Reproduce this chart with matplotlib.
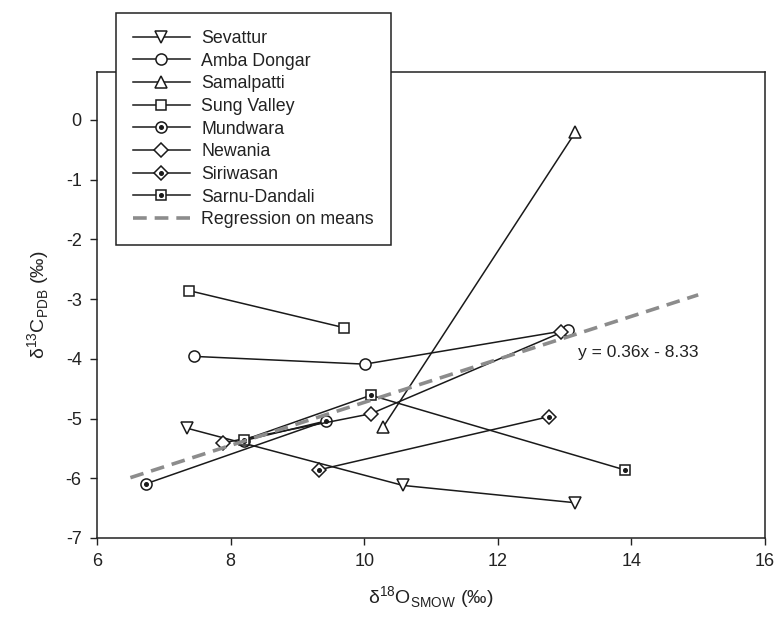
import matplotlib
matplotlib.use('Agg')
import matplotlib.pyplot as plt

plt.rcParams['font.family'] = ['Liberation Sans', 'DejaVu Sans']
plt.rcParams['mathtext.fontset'] = 'custom'
plt.rcParams['mathtext.rm'] = 'Liberation Sans'
plt.rcParams['axes.unicode_minus'] = False

# d18O (SMOW) and d13C (PDB) per locality
sevattur_x = [7.34, 10.58, 13.16]
sevattur_y = [-5.16, -6.12, -6.41]
amba_x = [7.45, 10.01, 13.05]
amba_y = [-3.96, -4.09, -3.52]
samalpatti_x = [10.28, 13.16]
samalpatti_y = [-5.15, -0.21]
sung_x = [7.38, 9.70]
sung_y = [-2.86, -3.48]
mundwara_x = [6.74, 9.43, 8.20]
mundwara_y = [-6.09, -5.04, -5.37]
newania_x = [7.88, 10.10, 12.95]
newania_y = [-5.41, -4.92, -3.56]
siriwasan_x = [9.32, 12.76]
siriwasan_y = [-5.86, -4.97]
sarnu_x = [8.20, 10.10, 13.90]
sarnu_y = [-5.36, -4.61, -5.86]

# regression on locality means
reg_slope = 0.36
reg_intercept = -8.33
reg_x = [6.5, 15.0]

W, H = 774, 618
fig = plt.figure(figsize=(W / 100, H / 100), dpi=100)
ax = fig.add_axes([97 / W, 1 - 538 / H, (765 - 97) / W, (538 - 72) / H])

lc = '#1a1a1a'
common = dict(color=lc, lw=1.1, mec=lc, mew=1.1, mfc='white')


def series(x, y, marker, ms, label, dot=False):
    ln, = ax.plot(x, y, marker=marker, ms=ms, **common, zorder=3)
    if dot:
        d, = ax.plot(x, y, ls='none', marker='o', ms=2.6, color=lc, zorder=4)
        return (ln, d), label
    return ln, label


handles = []
handles.append(series(sevattur_x, sevattur_y, 'v', 8, 'Sevattur'))
handles.append(series(amba_x, amba_y, 'o', 8, 'Amba Dongar'))
handles.append(series(samalpatti_x, samalpatti_y, '^', 8, 'Samalpatti'))
handles.append(series(sung_x, sung_y, 's', 7.5, 'Sung Valley'))
handles.append(series(mundwara_x, mundwara_y, 'o', 8, 'Mundwara', dot=True))
handles.append(series(newania_x, newania_y, 'D', 7, 'Newania'))
handles.append(series(siriwasan_x, siriwasan_y, 'D', 7, 'Siriwasan', dot=True))
handles.append(series(sarnu_x, sarnu_y, 's', 7.5, 'Sarnu-Dandali', dot=True))

reg_y = [reg_slope * v + reg_intercept for v in reg_x]
reg, = ax.plot(reg_x, reg_y, color='#8c8c8c', lw=2.6, dashes=(3.8, 2.2), zorder=5)
handles.append((reg, 'Regression on means'))

ax.text(13.2, -3.89, f'y = {reg_slope:.2f}x - {abs(reg_intercept):.2f}',
        fontsize=12.5, color='#222222', va='center', ha='left')

ax.set_xlim(6, 16)
ax.set_ylim(-7, 0.8)
ax.set_xticks(range(6, 17, 2))
ax.set_yticks(range(-7, 1))
ax.tick_params(direction='out', length=5, width=1, labelsize=13,
               colors='#222222', pad=6)
for s in ax.spines.values():
    s.set_linewidth(1.1)
    s.set_color('#222222')

ax.set_xlabel('δ$^{\\mathregular{18}}$O$_{\\mathregular{SMOW}}$ (‰)', fontsize=14,
              color='#222222', labelpad=10)
ax.set_ylabel('δ$^{\\mathregular{13}}$C$_{\\mathregular{PDB}}$ (‰)', fontsize=14,
              color='#222222', labelpad=10)

leg = ax.legend([h for h, _ in handles], [l for _, l in handles],
                loc='upper left', bbox_to_anchor=(116 / W, 1 - 13 / H),
                bbox_transform=fig.transFigure, borderaxespad=0,
                fontsize=12.8, numpoints=1, handlelength=3.2,
                handletextpad=0.65, labelspacing=0.32, borderpad=0.95,
                fancybox=False, framealpha=1, edgecolor='#222222')
leg.get_frame().set_linewidth(1.1)
for t in leg.get_texts():
    t.set_color('#222222')

fig.savefig('out.png', dpi=100)
